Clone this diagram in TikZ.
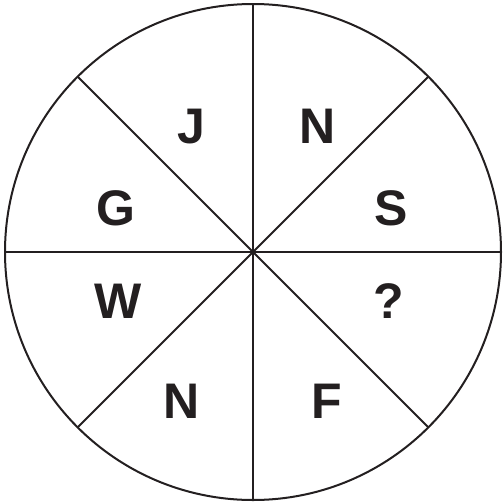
\documentclass[tikz,border=0pt]{standalone}
\usepackage{fontspec}
\setmainfont{Liberation Sans}
\usetikzlibrary{calc}
\definecolor{ink}{HTML}{231F20}
\tikzset{letter/.style={anchor=base, inner sep=0pt, text=ink, font=\fontsize{50}{50}\selectfont\bfseries}}

\begin{document}
\begin{tikzpicture}[x=1pt,y=-1pt,line width=2pt,draw=ink]
\useasboundingbox (0,0) rectangle (503,504);
\coordinate (o) at (253,252);
\draw[ink] (o) circle [radius=248pt];
\foreach \a in {0,45,90,135}
  \draw[ink] ($(o)+(\a:248pt)$) -- ($(o)+(\a+180:248pt)$);

\node[letter] (j) at (191,143) {J};
\node[letter] (n1) at (318,143) {N};
\node[letter] (s) at (391,225) {S};
\node[letter] (q) at (389,318) {?};
\node[letter] (f) at (327,418) {F};
\node[letter] (n2) at (182,418) {N};
\node[letter] (w) at (118,318) {W};
\node[letter] (g) at (116,225) {G};
\end{tikzpicture}
\end{document}
